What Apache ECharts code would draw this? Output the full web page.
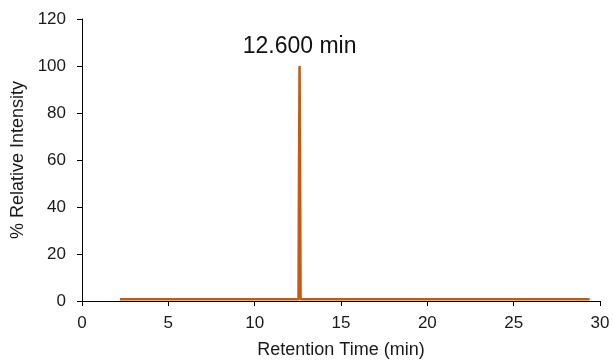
<!DOCTYPE html>
<html>
<head>
<meta charset="utf-8">
<script src="https://cdn.jsdelivr.net/npm/echarts@6/dist/echarts.min.js"></script>
<style>
  html, body { margin: 0; padding: 0; background: #fff; }
  #chart { width: 613px; height: 364px; }
</style>
</head>
<body>
<div id="chart"></div>
<script>
// Chromatogram trace: retention time (min) and % relative intensity
const retentionTimes = [2.2, 3.0, 3.75, 3.8, 3.85, 5.0, 5.45, 5.5, 5.55, 6.9, 7.0, 7.1, 8.25, 8.3, 8.35, 9.75, 9.8, 9.85, 11.1, 11.15, 11.2, 12.0, 12.54, 12.57, 12.6, 12.63, 12.66, 13.5, 15.0, 17.0, 20.0, 23.0, 26.0, 29.4];
const intensities    = [0.7, 0.7, 0.7, 1.3, 0.7, 0.7, 0.7, 1.0, 0.7, 0.7, 1.0, 0.7, 0.7, 1.0, 0.7, 0.7, 1.0, 0.7, 0.7, 1.0, 0.7, 0.7, 0.7, 60, 100, 60, 0.7, 0.7, 0.7, 0.7, 0.7, 0.7, 0.7, 0.7];
const peakTime = 12.6;
const peakIntensity = 100;
const xTicks = [0, 5, 10, 15, 20, 25, 30];
const yTicks = [0, 20, 40, 60, 80, 100, 120];

const traceData = retentionTimes.map((t, i) => [t, intensities[i]]);

const chart = echarts.init(document.getElementById('chart'), null, { renderer: 'canvas' });
const font = 'Liberation Sans';
const textColor = '#1a1a1a';
chart.setOption({
  animation: false,
  backgroundColor: '#fff',
  grid: { left: 82, right: 13, top: 19, bottom: 60 },
  xAxis: {
    type: 'value',
    min: xTicks[0],
    max: xTicks[xTicks.length - 1],
    interval: xTicks[1] - xTicks[0],
    name: 'Retention Time (min)',
    nameLocation: 'middle',
    nameGap: 40,
    nameTextStyle: { fontFamily: font, fontSize: 18, color: textColor },
    axisLine: { lineStyle: { color: '#000', width: 1 } },
    axisTick: { show: true, inside: false, length: 5, lineStyle: { color: '#000' } },
    axisLabel: { fontFamily: font, fontSize: 17, margin: 14, color: textColor },
    splitLine: { show: false }
  },
  yAxis: {
    type: 'value',
    min: yTicks[0],
    max: yTicks[yTicks.length - 1],
    interval: yTicks[1] - yTicks[0],
    name: '% Relative Intensity',
    nameLocation: 'middle',
    nameGap: 50,
    nameTextStyle: { fontFamily: font, fontSize: 18, color: textColor },
    axisLine: { show: true, lineStyle: { color: '#000', width: 1 } },
    axisTick: { show: true, inside: false, length: 5, lineStyle: { color: '#000' } },
    axisLabel: { fontFamily: font, fontSize: 17, margin: 16, color: textColor },
    splitLine: { show: false }
  },
  series: [{
    type: 'line',
    data: traceData,
    showSymbol: false,
    symbol: 'none',
    lineStyle: { color: '#C55A11', width: 2.5 },
    itemStyle: { color: '#C55A11' },
    markPoint: {
      symbol: 'circle',
      symbolSize: 0,
      data: [{ coord: [peakTime, peakIntensity], value: peakTime }],
      label: {
        show: true,
        position: 'top',
        distance: 8,
        formatter: p => Number(p.value).toFixed(3) + ' min',
        fontFamily: font,
        fontSize: 23,
        color: '#111'
      }
    }
  }]
});
</script>
</body>
</html>
